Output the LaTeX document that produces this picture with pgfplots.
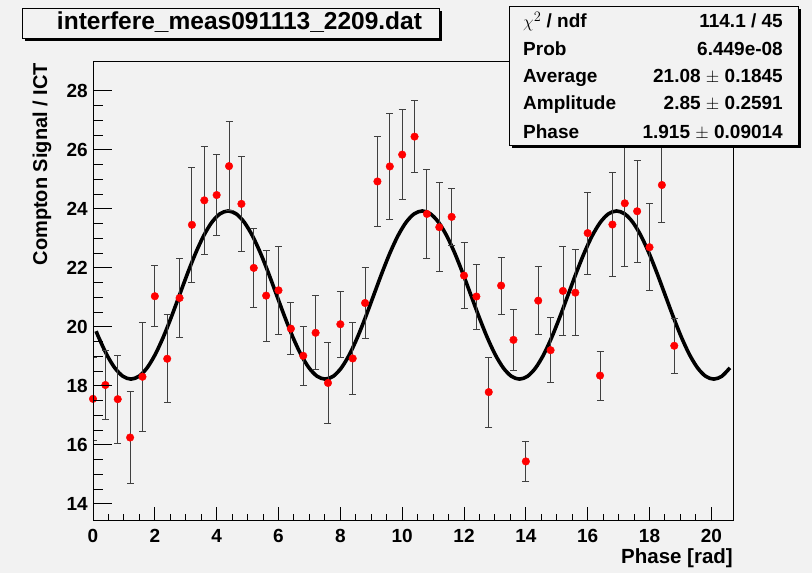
\documentclass[border=0pt]{standalone}
\usepackage{pgfplots}
\usepackage{pgfplotstable}
\pgfplotsset{compat=1.18}
\usepackage{fontspec}
\setmainfont{Liberation Sans}
\definecolor{bg}{RGB}{242,242,242}

\pgfplotstableread{
x y e
0.0 17.56 1.40
0.4 18.03 1.18
0.8 17.55 1.49
1.2 16.25 1.55
1.6 18.31 1.84
2.0 21.04 1.04
2.4 18.92 1.49
2.8 20.98 1.35
3.2 23.46 1.94
3.6 24.29 1.83
4.0 24.47 1.37
4.4 25.45 1.50
4.8 24.17 1.60
5.2 22.00 1.35
5.6 21.06 1.54
6.0 21.24 1.48
6.4 19.94 0.88
6.8 19.02 1.00
7.2 19.80 1.25
7.6 18.10 1.36
8.0 20.09 1.11
8.4 18.93 1.23
8.8 20.81 1.20
9.2 24.93 1.53
9.6 25.44 1.80
10.0 25.84 1.52
10.4 26.45 1.23
10.8 23.83 1.50
11.2 23.38 1.51
11.6 23.73 0.96
12.0 21.74 1.11
12.4 21.03 1.10
12.8 17.79 1.19
13.2 21.40 0.97
13.6 19.56 1.02
14.0 15.44 0.69
14.4 20.89 1.16
14.8 19.21 1.10
15.2 21.22 1.52
15.6 21.16 1.46
16.0 23.18 1.39
16.4 18.35 0.83
16.8 23.47 1.75
17.2 24.19 2.13
17.6 23.92 1.72
18.0 22.70 1.47
18.4 24.81 1.27
18.8 19.36 0.94
}\meas

\pgfplotstableread{
x y
0.1 19.855
0.1794 19.655
0.4412 19.0647
0.7030 18.6118
0.9648 18.3271
1.2266 18.23
1.4884 18.3271
1.7502 18.6118
2.0120 19.0647
2.2738 19.655
2.5356 20.3424
2.7974 21.08
3.0592 21.8176
3.3210 22.505
3.5828 23.0953
3.8446 23.5482
4.1064 23.8329
4.3682 23.93
4.6300 23.8329
4.8918 23.5482
5.1536 23.0953
5.4154 22.505
5.6772 21.8176
5.9390 21.08
6.2008 20.3424
6.4626 19.655
6.7244 19.0647
6.9862 18.6118
7.2480 18.3271
7.5098 18.23
7.7716 18.3271
8.0334 18.6118
8.2952 19.0647
8.5570 19.655
8.8188 20.3424
9.0806 21.08
9.3424 21.8176
9.6042 22.505
9.8660 23.0953
10.1278 23.5482
10.3896 23.8329
10.6514 23.93
10.9132 23.8329
11.1750 23.5482
11.4368 23.0953
11.6986 22.505
11.9604 21.8176
12.2222 21.08
12.4840 20.3424
12.7458 19.655
13.0076 19.0647
13.2694 18.6118
13.5312 18.3271
13.7930 18.23
14.0548 18.3271
14.3166 18.6118
14.5784 19.0647
14.8402 19.655
15.1020 20.3424
15.3638 21.08
15.6256 21.8176
15.8874 22.505
16.1492 23.0953
16.4110 23.5482
16.6728 23.8329
16.9346 23.93
17.1964 23.8329
17.4582 23.5482
17.7200 23.0953
17.9818 22.505
18.2436 21.8176
18.5054 21.08
18.7672 20.3424
19.0290 19.655
19.2908 19.0647
19.5526 18.6118
19.8144 18.3271
20.0762 18.23
20.3380 18.3271
20.5997 18.6118
}\fitcurve

\pgfplotsset{rootaxis/.style={
  at={(93pt,52pt)}, anchor=south west, scale only axis,
  width=640pt, height=459pt,
  xmin=0, xmax=20.7, ymin=13.42, ymax=28.98,
  axis line style={line width=1pt, black},
  tick align=inside, tick pos=left,
  every tick/.style={black, line width=1pt},
  ticklabel style={font=\bfseries\fontsize{19}{19}\selectfont, inner sep=0pt},
  /pgf/number format/assume math mode=true,
}}

\begin{document}
\begin{tikzpicture}
\fill[bg] (0pt,0pt) rectangle (812pt,573pt);
\useasboundingbox (0pt,0pt) rectangle (812pt,573pt);

\begin{axis}[rootaxis,
  xtick={0,2,...,20}, minor x tick num=3, ytick=\empty,
  major tick length=13.8pt, minor tick length=6.9pt,
  xticklabel style={anchor=north, yshift=-8pt},
  clip mode=individual]
  \addplot[black, line width=3.6pt, smooth] table[x=x, y=y] {\fitcurve};
  \addplot[only marks, mark=*, mark size=3.8pt,
    mark options={fill=red, draw=red},
    error bars/.cd, y dir=both, y explicit,
    error bar style={line width=0.9pt, black!75},
    error mark options={rotate=90, mark size=3.5pt, line width=0.9pt, black!75}]
    table[x=x, y=y, y error=e] {\meas};
\end{axis}

\begin{axis}[rootaxis,
  xtick=\empty, ytick={14,16,...,28}, minor y tick num=3,
  major tick length=19.2pt, minor tick length=9.6pt,
  yticklabel style={anchor=east, xshift=-5pt}]
\end{axis}

% axis titles
\node[rotate=90, anchor=base east, inner sep=0pt,
  font=\bfseries\fontsize{20}{20}\selectfont] at (47pt,510pt) {Compton Signal / ICT};
\node[anchor=base east, inner sep=0pt,
  font=\bfseries\fontsize{20.5}{20.5}\selectfont] at (733pt,9pt) {Phase [rad]};

% title box
\fill[black] (25pt,532pt) rectangle (442pt,562pt);
\filldraw[fill=bg, draw=black, line width=0.8pt] (22pt,535pt) rectangle (439pt,565pt);
\node[anchor=base, inner sep=0pt, font=\bfseries\fontsize{24.5}{24.5}\selectfont]
  at (239.5pt,543.5pt) {interfere\_meas091113\_2209.dat};

% stats box
\fill[black] (512pt,425pt) rectangle (801pt,564pt);
\filldraw[fill=bg, draw=black, line width=0.8pt] (509pt,428pt) rectangle (798pt,567pt);
\begin{scope}[every node/.style={inner sep=0pt, font=\bfseries\fontsize{19}{19}\selectfont}]
  \node[anchor=base west] at (523pt,545pt) {$\chi^{2}$ / ndf};
  \node[anchor=base east] at (783pt,545pt) {114.1 / 45};
  \node[anchor=base west] at (523pt,517pt) {Prob};
  \node[anchor=base east] at (783pt,517pt) {6.449e-08};
  \node[anchor=base west] at (523pt,490pt) {Average};
  \node[anchor=base east] at (783pt,490pt) {21.08 $\pm$ 0.1845};
  \node[anchor=base west] at (523pt,463pt) {Amplitude};
  \node[anchor=base east] at (783pt,463pt) {2.85 $\pm$ 0.2591};
  \node[anchor=base west] at (523pt,434pt) {Phase};
  \node[anchor=base east] at (783pt,434pt) {1.915 $\pm$ 0.09014};
\end{scope}
\end{tikzpicture}
\end{document}
